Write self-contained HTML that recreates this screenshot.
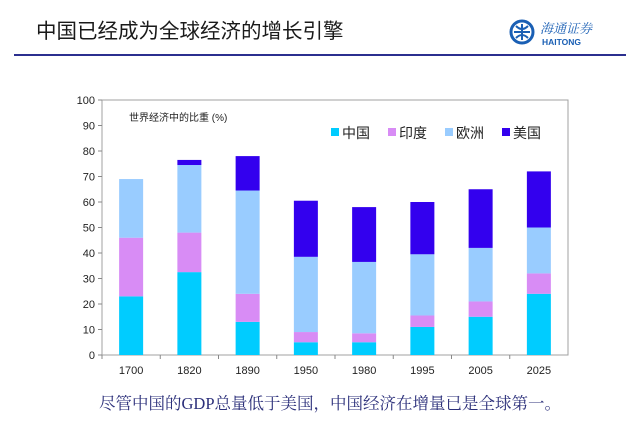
<!DOCTYPE html>
<html><head><meta charset="utf-8"><style>
body{margin:0;width:640px;height:433px;background:#fff;overflow:hidden;font-family:"Liberation Sans","Noto Sans CJK SC",sans-serif;}
</style></head><body>
<svg width="640" height="433" xmlns="http://www.w3.org/2000/svg">
<text x="36" y="38" font-size="20.5" fill="#1a1a1a" font-family="'Liberation Sans','Noto Sans CJK SC',sans-serif">中国已经成为全球经济的增长引擎</text>
<g>
<circle cx="522" cy="32" r="11" fill="none" stroke="#1a5fb4" stroke-width="3"/>
<path d="M514 32h16M522 24v16M516 26q6 6 12 0M516 38q6-6 12 0" stroke="#1a5fb4" stroke-width="2" fill="none"/>
<text x="540" y="33" font-size="13" fill="#1a5fb4" font-style="italic" font-family="'Noto Serif CJK SC',serif">海通证券</text>
<text x="542" y="45" font-size="8.5" font-weight="bold" fill="#1a5fb4">HAITONG</text>
</g>
<line x1="14" y1="55" x2="626" y2="55" stroke="#2b2f8f" stroke-width="2"/>
<g id="chart"></g>
<text x="330" y="409" text-anchor="middle" font-size="16.5" fill="#2b2f7a" font-family="'Liberation Serif','Noto Serif CJK SC',serif">尽管中国的GDP总量低于美国，中国经济在增量已是全球第一。</text>
</svg>
<script>
const categories=["1700","1820","1890","1950","1980","1995","2005","2025"];
const china=[23,32.5,13,5,5,11,15,24];
const india=[23,15.5,11,4,3.5,4.5,6,8];
const europe=[23,26.5,40.5,29.5,28,24,21,18];
const usa=[0,2,13.5,22,21.5,20.5,23,22];
const yTicks=[0,10,20,30,40,50,60,70,80,90,100];
const seriesNames=["中国","印度","欧洲","美国"];
const seriesColors=["#00ccff","#d88cf5","#99ccff","#3300ee"];
const NS="http://www.w3.org/2000/svg";
const g=document.getElementById('chart');
const L=102,R=568,T=100,B=355;
const y=v=>B-(v/100)*(B-T);
const band=(R-L)/categories.length;
const x=i=>L+band*i+band/2;
function mk(t,a){const e=document.createElementNS(NS,t);for(const k in a)e.setAttribute(k,a[k]);g.appendChild(e);return e;}
let fr=mk('rect',{x:L,y:T,width:R-L,height:B-T,fill:'none',stroke:'#a0a0a0','stroke-width':1});


yTicks.forEach(v=>{
 let t=mk('text',{x:L-7,y:y(v)+4,'text-anchor':'end','font-size':11,fill:'#222'});t.textContent=v;
 
 
 mk('line',{x1:L-4,x2:L,y1:y(v),y2:y(v),stroke:'#888'});
});
const series=[china,india,europe,usa];
categories.forEach((c,i)=>{
 let base=0;
 series.forEach((s,k)=>{
  const v=s[i];if(v<=0)return;
  let r=mk('rect',{x:x(i)-12,y:y(base+v),width:24,height:y(base)-y(base+v),fill:seriesColors[k]});
  
  
  base+=v;
 });
 let t=mk('text',{x:x(i),y:B+19,'text-anchor':'middle','font-size':11,fill:'#222'});t.textContent=c;
 
 
 mk('line',{x1:L+band*i,x2:L+band*i,y1:B,y2:B+4,stroke:'#888'});
});
let st=mk('text',{x:129,y:121,'font-size':10,fill:'#222'});st.textContent='世界经济中的比重 (%)';


const lx=[331,388,445,502];
seriesNames.forEach((n,k)=>{
 let r=mk('rect',{x:lx[k],y:128,width:8,height:8,fill:seriesColors[k]});
 
 
 let t=mk('text',{x:lx[k]+11,y:138,'font-size':14,fill:'#222'});t.textContent=n;
 
 
});
</script>
</body></html>
